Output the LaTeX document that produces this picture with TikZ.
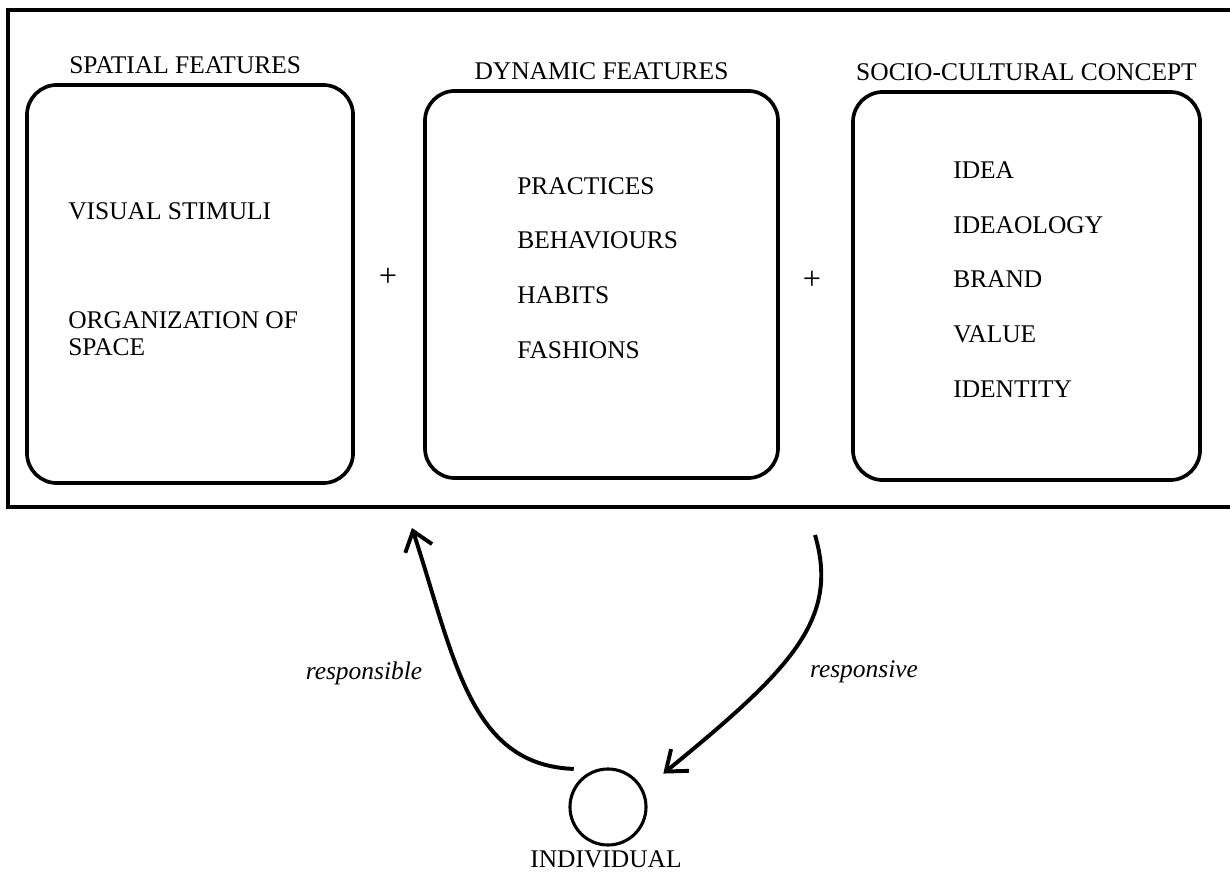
\documentclass[tikz,border=0pt]{standalone}
\usepackage{fontspec}
\setmainfont{Liberation Serif}
\usetikzlibrary{arrows.meta,positioning}
\newcommand{\featFont}{\fontsize{18.1pt}{19.2pt}\selectfont}
\tikzset{
 txt/.style = {font=\featFont, inner sep=0pt},
 item/.style = {txt, anchor=west},
 flowlabel/.style = {txt, font=\featFont\itshape},
 plus/.style = {txt, font=\fontsize{23pt}{24pt}\selectfont},
 featbox/.style = {draw, line width=2.6pt, rounded corners=0.75cm},
 flow/.style = {line width=2.8pt, -{Straight Barb[length=13pt,width=20pt]}}
}

\begin{document}
\begin{tikzpicture}[x=0.025cm, y=-0.025cm]
    \useasboundingbox (0,0) rectangle (1230,872);
    \draw[line width=2.6pt] (1232,10) -- (8,10) -- (8,507) -- (1232,507);

    \node[featbox, minimum width=8.15cm, minimum height=9.95cm] (spatial) at (190,284) {};
    \node[featbox, minimum width=8.825cm, minimum height=9.675cm] (dynamic) at (601.5,284.5) {};
    \node[featbox, minimum width=8.675cm, minimum height=9.7cm] (socio) at (1026.5,286) {};

    \node[txt, above=0.22cm of spatial, xshift=-0.12cm] (spatialT) {SPATIAL FEATURES};
    \node[txt, above=0.22cm of dynamic] (dynamicT) {DYNAMIC FEATURES};
    \node[txt, above=0.22cm of socio] (socioT) {SOCIO-CULTURAL CONCEPT};

    \node[item] (visual) at (68,211) {VISUAL STIMULI};
    \node[item, align=left] (organ) at (68,333.5) {ORGANIZATION OF\\SPACE};
    \foreach \txt [count=\i from 0] in {PRACTICES, BEHAVIOURS, HABITS, FASHIONS}
        \node[item] (dyn\i) at (517,{186+54.7*\i}) {\txt};
    \foreach \txt [count=\i from 0] in {IDEA, IDEAOLOGY, BRAND, VALUE, IDENTITY}
        \node[item] (soc\i) at (953,{170+54.75*\i}) {\txt};

    \node[plus] (plusA) at (388,277) {+};
    \node[plus] (plusB) at (812,280) {+};

    \node[draw, circle, line width=2.2pt, minimum size=1.9cm, outer sep=0.33cm] (indiv) at (608,807) {};
    \node[txt] (indivT) at (606,859) {INDIVIDUAL};

    \coordinate (frameIn) at (412,528);
    \coordinate (frameOut) at (815,535);
    \draw[flow] (indiv.132) .. controls (470,765) and (455,660) .. (frameIn);
    \draw[flow, shorten >=0.34cm] (frameOut) .. controls (840,620) and (790,670) .. (indiv.29);

    \node[flowlabel] (respL) at (364,673) {responsible};
    \node[flowlabel] (respR) at (864,672) {responsive};
\end{tikzpicture}
\end{document}
